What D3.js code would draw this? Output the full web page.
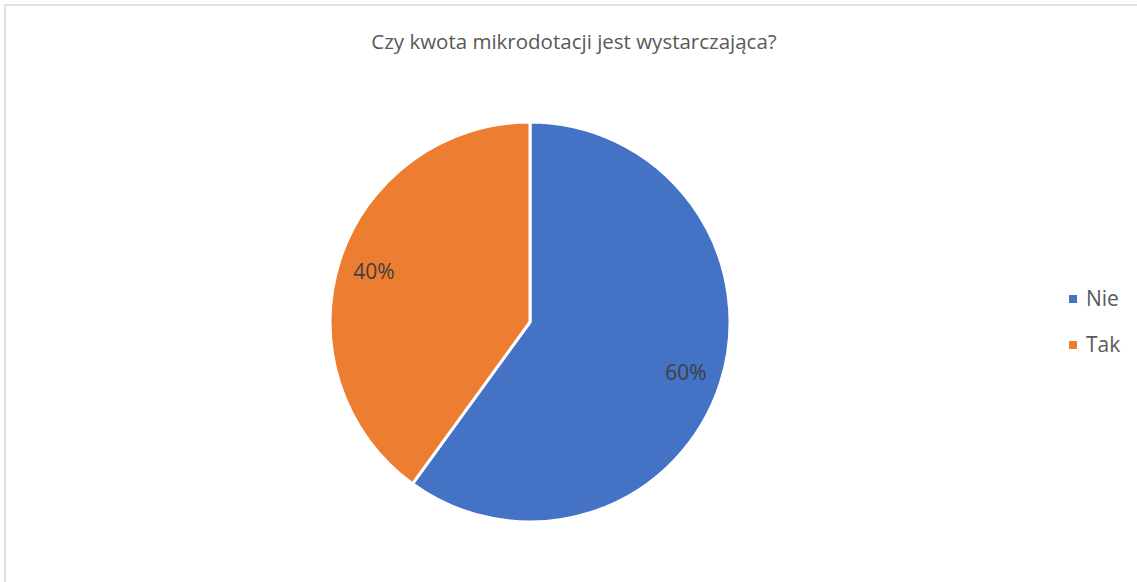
<!DOCTYPE html>
<html><head><meta charset="utf-8">
<script src="https://cdn.jsdelivr.net/npm/d3@7"></script>
<style>body{margin:0;background:#fff}svg{display:block}</style>
</head><body>
<svg id="c" width="1137" height="582"></svg>
<script>
const title = "Czy kwota mikrodotacji jest wystarczająca?";
const categories = ["Nie", "Tak"];
const values = [60, 40];
const colors = ["#4472C4", "#ED7D31"];

const svg = d3.select("#c");
const font = "'Open Sans', 'Noto Sans', sans-serif";
svg.append("rect").attr("x",5).attr("y",5).attr("width",1140).attr("height",590)
  .attr("fill","#fff").attr("stroke","#d9d9d9").attr("stroke-width",1.5);

svg.append("text").attr("x",574).attr("y",49).attr("text-anchor","middle")
  .attr("font-family",font).attr("font-size",20.5).attr("fill","#595959").text(title);

const cx=530, cy=322, r=200;
const pie = d3.pie().sort(null).value(d=>d.v);
const data = pie(categories.map((c,i)=>({c, v:values[i], col:colors[i]})));
const arc = d3.arc().innerRadius(0).outerRadius(r);
const g = svg.append("g").attr("transform",`translate(${cx},${cy})`);
g.selectAll("path").data(data).join("path").attr("d",arc)
  .attr("fill",d=>d.data.col).attr("stroke","#fff").attr("stroke-width",3).attr("stroke-linejoin","round");
const total = d3.sum(values);
const labelArc = d3.arc().innerRadius(r*0.82).outerRadius(r*0.82);
g.selectAll("text").data(data).join("text")
  .attr("transform",d=>{const [x,y]=labelArc.centroid(d); return `translate(${x},${y})`;})
  .attr("text-anchor","middle").attr("dy","0.35em")
  .attr("font-family",font).attr("font-size",21).attr("fill","#404040")
  .text(d=>Math.round(d.data.v/total*100)+"%");

const lg = svg.append("g");
categories.forEach((c,i)=>{
  const y = 299 + i*46;
  lg.append("rect").attr("x",1069).attr("y",y-4).attr("width",8).attr("height",8).attr("fill",colors[i]);
  lg.append("text").attr("x",1086).attr("y",y).attr("dy","0.35em")
    .attr("font-family",font).attr("font-size",21).attr("fill","#595959").text(c);
});
</script>
</body></html>
